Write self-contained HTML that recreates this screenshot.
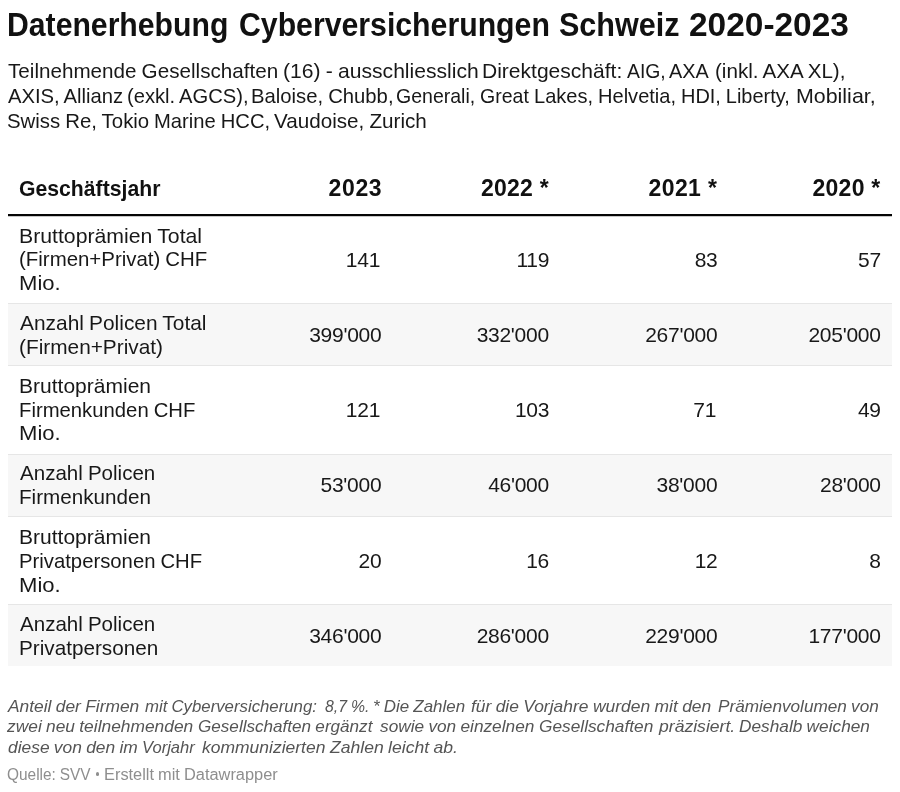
<!DOCTYPE html>
<html lang="de"><head><meta charset="utf-8"><title>Datenerhebung Cyberversicherungen Schweiz 2020-2023</title>
<style>
html,body{margin:0;padding:0;background:#fff;}
body{width:900px;height:792px;position:relative;overflow:hidden;font-family:"Liberation Sans",sans-serif;color:#181818;}
#w{position:absolute;left:0;top:0;width:900px;height:792px;will-change:transform;filter:blur(0.35px);}
.t{position:absolute;white-space:nowrap;line-height:1;transform-origin:0 0;}
.title{font-weight:bold;color:#111;word-spacing:-0.9px;font-size:32.4px;}
.sub{color:#181818;word-spacing:-0.65px;font-size:20.8px;}
.hd{font-weight:bold;color:#111;font-size:22.5px;}
.c{color:#181818;word-spacing:-0.65px;font-size:20.7px;}
.row{position:absolute;left:8px;width:884px;background:#f7f7f7;border-top:1px solid #e6e6e6;border-bottom:1px solid #e6e6e6;box-sizing:border-box;}
.rule{position:absolute;left:8px;width:884px;height:2px;top:214px;background:#050505;box-shadow:0 1px 0 rgba(0,0,0,0.22);}
.note{font-style:italic;color:#555;word-spacing:-0.5px;font-size:16.4px;}
.src{color:#8e8e8e;word-spacing:-0.5px;font-size:16.0px;}
.dot{position:absolute;left:95.8px;top:772.4px;width:3.5px;height:3.5px;border-radius:50%;background:#8e8e8e;}
</style></head><body><div id="w">
<div class="row" style="top:303.3px;height:63.0px"></div>
<div class="row" style="top:453.5px;height:63.3px"></div>
<div class="row" style="top:603.7px;height:62.3px;border-bottom:0"></div>
<div class="rule"></div>
<div id="title_0" class="t title" style="left:7.28px;top:9.00px;transform:scaleX(0.9317);">Datenerhebung</div>
<div id="title_1" class="t title" style="left:239.42px;top:9.00px;transform:scaleX(0.9334);">Cyberversicherungen</div>
<div id="title_2" class="t title" style="left:558.51px;top:9.00px;transform:scaleX(0.9429);">Schweiz</div>
<div id="title_3" class="t title" style="left:688.59px;top:9.00px;transform:scaleX(1.0324);">2020-2023</div>
<div id="sub1_0" class="t sub" style="left:7.82px;top:61.00px;transform:scaleX(0.9926);">Teilnehmende Gesellschaften</div>
<div id="sub1_1" class="t sub" style="left:282.81px;top:61.00px;transform:scaleX(1.0151);">(16) - ausschliesslich</div>
<div id="sub1_2" class="t sub" style="left:482.21px;top:61.00px;transform:scaleX(1.0114);">Direktgeschäft:</div>
<div id="sub1_3" class="t sub" style="left:627.32px;top:61.00px;transform:scaleX(0.9314);">AIG,</div>
<div id="sub1_4" class="t sub" style="left:668.88px;top:61.00px;transform:scaleX(0.9552);">AXA</div>
<div id="sub1_5" class="t sub" style="left:714.73px;top:61.00px;transform:scaleX(0.9910);">(inkl. AXA XL),</div>
<div id="sub2_0" class="t sub" style="left:7.70px;top:86.00px;transform:scaleX(0.9732);">AXIS, Allianz</div>
<div id="sub2_1" class="t sub" style="left:126.82px;top:86.00px;transform:scaleX(0.9697);">(exkl. AGCS),</div>
<div id="sub2_2" class="t sub" style="left:250.64px;top:86.00px;transform:scaleX(0.9750);">Baloise, Chubb,</div>
<div id="sub2_3" class="t sub" style="left:395.98px;top:86.00px;transform:scaleX(0.9387);">Generali, Great</div>
<div id="sub2_4" class="t sub" style="left:533.96px;top:86.00px;transform:scaleX(0.9643);">Lakes, Helvetia,</div>
<div id="sub2_5" class="t sub" style="left:681.39px;top:86.00px;transform:scaleX(0.9596);">HDI, Liberty,</div>
<div id="sub2_6" class="t sub" style="left:795.76px;top:86.00px;transform:scaleX(1.0287);">Mobiliar,</div>
<div id="sub3_0" class="t sub" style="left:6.86px;top:111.00px;transform:scaleX(0.9800);">Swiss Re, Tokio</div>
<div id="sub3_1" class="t sub" style="left:153.67px;top:111.00px;transform:scaleX(0.9711);">Marine HCC,</div>
<div id="sub3_2" class="t sub" style="left:273.72px;top:111.00px;transform:scaleX(0.9931);">Vaudoise, Zurich</div>
<div id="hdG" class="t hd" style="left:19.20px;top:177.00px;font-size:22.8px;transform:scaleX(0.9299);">Geschäftsjahr</div>
<div id="h2023" class="t hd" style="left:328.56px;top:177.00px;font-size:23.0px;letter-spacing:0.650px;">2023</div>
<div id="h2022" class="t hd" style="left:481.01px;top:177.00px;font-size:23.0px;letter-spacing:0.226px;">2022 *</div>
<div id="h2021" class="t hd" style="left:648.52px;top:177.00px;font-size:23.0px;letter-spacing:0.406px;">2021 *</div>
<div id="h2020" class="t hd" style="left:812.52px;top:177.00px;font-size:23.0px;letter-spacing:0.249px;">2020 *</div>
<div id="r1l1" class="t c" style="left:18.56px;top:226.00px;transform:scaleX(1.0265);">Bruttoprämien Total</div>
<div id="r1l2" class="t c" style="left:18.65px;top:249.00px;transform:scaleX(0.9876);">(Firmen+Privat) CHF</div>
<div id="r1l3" class="t c" style="left:18.62px;top:273.00px;transform:scaleX(1.0667);">Mio.</div>
<div id="r1n1" class="t c" style="left:345.85px;top:249.00px;font-size:21.0px;letter-spacing:-0.276px;">141</div>
<div id="r1n2" class="t c" style="left:516.43px;top:249.00px;font-size:21.0px;letter-spacing:-0.276px;">119</div>
<div id="r1n3" class="t c" style="left:694.66px;top:249.00px;font-size:21.0px;letter-spacing:-0.276px;">83</div>
<div id="r1n4" class="t c" style="left:858.07px;top:249.00px;font-size:21.0px;letter-spacing:-0.276px;">57</div>
<div id="r2l1" class="t c" style="left:19.84px;top:313.00px;transform:scaleX(1.0101);">Anzahl Policen Total</div>
<div id="r2l2" class="t c" style="left:18.67px;top:337.00px;transform:scaleX(1.0063);">(Firmen+Privat)</div>
<div id="r2n1" class="t c" style="left:309.19px;top:324.00px;font-size:21.0px;letter-spacing:-0.276px;">399'000</div>
<div id="r2n2" class="t c" style="left:476.66px;top:324.00px;font-size:21.0px;letter-spacing:-0.276px;">332'000</div>
<div id="r2n3" class="t c" style="left:645.19px;top:324.00px;font-size:21.0px;letter-spacing:-0.276px;">267'000</div>
<div id="r2n4" class="t c" style="left:808.45px;top:324.00px;font-size:21.0px;letter-spacing:-0.276px;">205'000</div>
<div id="r3l1" class="t c" style="left:18.86px;top:376.00px;transform:scaleX(1.0160);">Bruttoprämien</div>
<div id="r3l2" class="t c" style="left:19.16px;top:400.00px;transform:scaleX(0.9806);">Firmenkunden CHF</div>
<div id="r3l3" class="t c" style="left:18.62px;top:423.00px;transform:scaleX(1.0667);">Mio.</div>
<div id="r3n1" class="t c" style="left:345.85px;top:399.00px;font-size:21.0px;letter-spacing:-0.276px;">121</div>
<div id="r3n2" class="t c" style="left:514.88px;top:399.00px;font-size:21.0px;letter-spacing:-0.276px;">103</div>
<div id="r3n3" class="t c" style="left:693.37px;top:399.00px;font-size:21.0px;letter-spacing:-0.276px;">71</div>
<div id="r3n4" class="t c" style="left:857.88px;top:399.00px;font-size:21.0px;letter-spacing:-0.276px;">49</div>
<div id="r4l1" class="t c" style="left:19.91px;top:463.00px;transform:scaleX(0.9933);">Anzahl Policen</div>
<div id="r4l2" class="t c" style="left:18.66px;top:487.00px;transform:scaleX(0.9983);">Firmenkunden</div>
<div id="r4n1" class="t c" style="left:320.57px;top:474.00px;font-size:21.0px;letter-spacing:-0.276px;">53'000</div>
<div id="r4n2" class="t c" style="left:488.18px;top:474.00px;font-size:21.0px;letter-spacing:-0.276px;">46'000</div>
<div id="r4n3" class="t c" style="left:656.57px;top:474.00px;font-size:21.0px;letter-spacing:-0.276px;">38'000</div>
<div id="r4n4" class="t c" style="left:820.00px;top:474.00px;font-size:21.0px;letter-spacing:-0.276px;">28'000</div>
<div id="r5l1" class="t c" style="left:18.86px;top:527.00px;transform:scaleX(1.0160);">Bruttoprämien</div>
<div id="r5l2" class="t c" style="left:18.87px;top:551.00px;transform:scaleX(0.9806);">Privatpersonen CHF</div>
<div id="r5l3" class="t c" style="left:18.62px;top:575.00px;transform:scaleX(1.0667);">Mio.</div>
<div id="r5n1" class="t c" style="left:358.57px;top:550.00px;font-size:21.0px;letter-spacing:-0.276px;">20</div>
<div id="r5n2" class="t c" style="left:526.21px;top:550.00px;font-size:21.0px;letter-spacing:-0.276px;">16</div>
<div id="r5n3" class="t c" style="left:694.65px;top:550.00px;font-size:21.0px;letter-spacing:-0.276px;">12</div>
<div id="r5n4" class="t c" style="left:869.29px;top:550.00px;font-size:21.0px;letter-spacing:-0.276px;">8</div>
<div id="r6l1" class="t c" style="left:19.91px;top:614.00px;transform:scaleX(0.9933);">Anzahl Policen</div>
<div id="r6l2" class="t c" style="left:18.86px;top:638.00px;transform:scaleX(1.0006);">Privatpersonen</div>
<div id="r6n1" class="t c" style="left:309.19px;top:625.00px;font-size:21.0px;letter-spacing:-0.276px;">346'000</div>
<div id="r6n2" class="t c" style="left:476.66px;top:625.00px;font-size:21.0px;letter-spacing:-0.276px;">286'000</div>
<div id="r6n3" class="t c" style="left:645.19px;top:625.00px;font-size:21.0px;letter-spacing:-0.276px;">229'000</div>
<div id="r6n4" class="t c" style="left:808.45px;top:625.00px;font-size:21.0px;letter-spacing:-0.276px;">177'000</div>
<div id="n1_0" class="t note" style="left:7.77px;top:698.00px;transform:scaleX(1.0601);">Anteil der Firmen</div>
<div id="n1_1" class="t note" style="left:144.75px;top:698.00px;transform:scaleX(1.0230);">mit Cyberversicherung:</div>
<div id="n1_2" class="t note" style="left:324.87px;top:698.00px;transform:scaleX(0.9645);">8,7 %.</div>
<div id="n1_3" class="t note" style="left:373.29px;top:698.00px;transform:scaleX(1.0328);">* Die Zahlen</div>
<div id="n1_4" class="t note" style="left:470.86px;top:698.00px;transform:scaleX(1.0629);">für die Vorjahre</div>
<div id="n1_5" class="t note" style="left:593.40px;top:698.00px;transform:scaleX(1.0649);">wurden mit den</div>
<div id="n1_6" class="t note" style="left:717.72px;top:698.00px;transform:scaleX(1.0475);">Prämienvolumen von</div>
<div id="n2_0" class="t note" style="left:7.28px;top:718.00px;transform:scaleX(1.0594);">zwei neu teilnehmenden</div>
<div id="n2_1" class="t note" style="left:198.20px;top:718.00px;transform:scaleX(1.0435);">Gesellschaften ergänzt</div>
<div id="n2_2" class="t note" style="left:379.84px;top:718.00px;transform:scaleX(1.0526);">sowie von einzelnen</div>
<div id="n2_3" class="t note" style="left:539.00px;top:718.00px;transform:scaleX(1.0539);">Gesellschaften</div>
<div id="n2_4" class="t note" style="left:658.75px;top:718.00px;transform:scaleX(1.0724);">präzisiert.</div>
<div id="n2_5" class="t note" style="left:738.69px;top:718.00px;transform:scaleX(1.0532);">Deshalb weichen</div>
<div id="n3_0" class="t note" style="left:7.61px;top:739.00px;transform:scaleX(1.0608);">diese von den im</div>
<div id="n3_1" class="t note" style="left:141.92px;top:739.00px;transform:scaleX(1.0103);">Vorjahr</div>
<div id="n3_2" class="t note" style="left:202.10px;top:739.00px;transform:scaleX(1.0665);">kommunizierten</div>
<div id="n3_3" class="t note" style="left:330.11px;top:739.00px;transform:scaleX(1.0720);">Zahlen leicht ab.</div>
<div id="srcA" class="t src" style="left:7.18px;top:767.00px;transform:scaleX(0.9635);">Quelle: SVV</div>
<div id="srcB" class="t src" style="left:104.30px;top:767.00px;transform:scaleX(1.0236);">Erstellt mit Datawrapper</div>
<div class="dot"></div>
</div></body></html>
